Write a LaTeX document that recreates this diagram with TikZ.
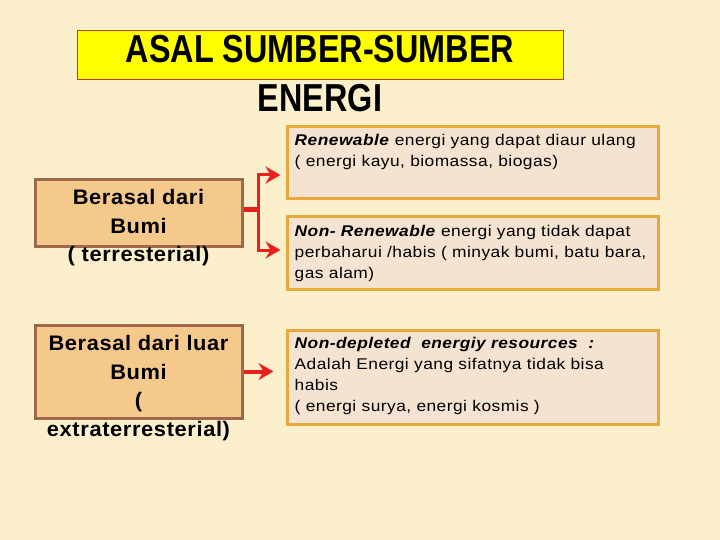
\documentclass[tikz,border=0pt]{standalone}
\usepackage{fontspec}
\setmainfont{Liberation Sans}
\newfontfamily\titlefont[FakeStretch=0.83]{Liberation Sans}
\newfontfamily\srcfont[FakeStretch=1.04,LetterSpace=3]{Liberation Sans}
\newfontfamily\infofont[FakeStretch=1.12,LetterSpace=3]{Liberation Sans}
\usetikzlibrary{positioning,arrows.meta}
\definecolor{paper}{HTML}{FCEFCB}
\definecolor{titlefill}{HTML}{FFFF00}
\definecolor{titleline}{HTML}{B8402A}
\definecolor{srcfill}{HTML}{F5C88C}
\definecolor{srcline}{HTML}{A0684A}
\definecolor{infofill}{HTML}{F5E3D1}
\definecolor{infoline}{HTML}{E8A83C}
\definecolor{linkred}{HTML}{E8201C}

\begin{document}
\begin{tikzpicture}[
    x=1pt, y=-1pt,
    src/.style ={
        draw=srcline,
        fill=srcfill,
        line width=3pt,
        minimum width=207pt
    },
    info/.style ={
        draw=infoline,
        fill=infofill,
        line width=3pt,
        minimum width=371pt
    },
    srctext/.style ={
        anchor=north,
        inner sep=0pt,
        align=center,
        font=\srcfont\bfseries\fontsize{21}{28.5}\selectfont
    },
    infotext/.style ={
        anchor=north west,
        inner sep=0pt,
        align=left,
        font=\infofont\fontsize{15.5}{21}\selectfont
    },
    link/.style ={
        draw=linkred,
        line width=3pt,
        -{Stealth[length=15pt,width=17pt,inset=5pt]}
    }
    ]
    \fill[paper] (0,0) rectangle (720,540);
    \useasboundingbox (0,0) rectangle (720,540);

    % title
    \node[draw=titleline, fill=titlefill, line width=1pt,
          minimum width=486pt, minimum height=49pt] (title) at (320,55.5) {};
    \node[anchor=north, inner sep=0pt, align=center,
          font=\titlefont\bfseries\fontsize{39}{49}\selectfont] (titletext) at (320,35)
          {ASAL SUMBER-SUMBER\\ENERGI};

    % boxes
    \foreach \x/ \pos/ \h in {{terra/(138.5,213)/66}, {extra/(138.5,371.5)/93}}
        \node[src, minimum height=\h pt] (\x) at \pos {};
    \foreach \x/ \pos/ \h in {{renew/(472.5,163)/72}, {nonrenew/(472.5,253)/72},
                              {nondep/(472.5,377)/94}}
        \node[info, minimum height=\h pt] (\x) at \pos {};

    % texts
    \node[srctext] (terratext) at ([shift={(0,11)}]terra.north)
        {Berasal dari\\Bumi\\( terresterial)};
    \node[srctext] (extratext) at ([shift={(0,12)}]extra.north)
        {Berasal dari luar\\Bumi\\(\\extraterresterial)};
    \node[infotext] (renewtext) at ([shift={(9,9)}]renew.north west)
        {\textbf{\textit{Renewable}} energi yang dapat diaur ulang\\
         ( energi kayu, biomassa, biogas)};
    \node[infotext] (nonrenewtext) at ([shift={(9,10)}]nonrenew.north west)
        {\textbf{\textit{Non- Renewable}} energi yang tidak dapat\\
         perbaharui /habis ( minyak bumi, batu bara,\\
         gas alam)};
    \node[infotext] (nondeptext) at ([shift={(9,9)}]nondep.north west)
        {\textbf{\textit{Non-depleted\ \ energiy resources\ \ :}}\\
         Adalah Energi yang sifatnya tidak bisa\\
         habis\\
         ( energi surya, energi kosmis )};

    % connectors
    \coordinate (fork) at ([shift={(15,-3)}]terra.east);
    \draw[linkred, line width=5pt] ([shift={(0,-3)}]terra.east) -- (fork);
    \draw[link, shorten >=5pt] (fork) |- ([shift={(0,12)}]renew.west);
    \draw[link, shorten >=5pt] (fork) |- ([shift={(0,-3)}]nonrenew.west);
    \draw[link, line width=4pt, shorten >=12pt] (extra.east) -- (extra.east -| nondep.west);
\end{tikzpicture}
\end{document}
